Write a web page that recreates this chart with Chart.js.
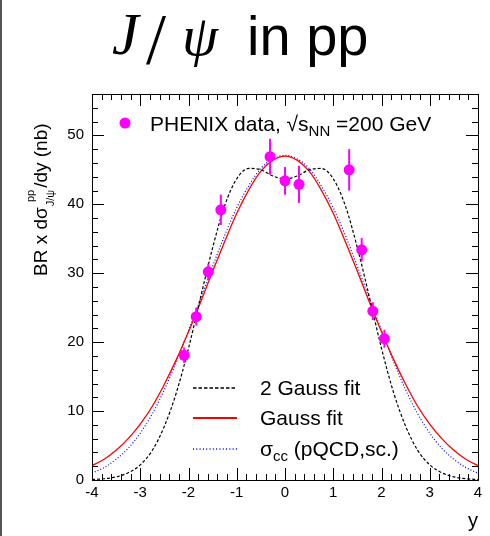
<!DOCTYPE html>
<html>
<head>
<meta charset="utf-8">
<title>J/psi in pp</title>
<script src="https://cdn.jsdelivr.net/npm/chart.js@4.4.1/dist/chart.umd.min.js"></script>
<style>
  html, body { margin: 0; padding: 0; background: #fff; }
  #wrap { position: relative; width: 490px; height: 536px; }
</style>
</head>
<body>
<div id="wrap"><canvas id="jpsiChart"></canvas></div>
<script>
// PHENIX data points (rapidity, BR x dsigma/dy in nb, error)
const dataRapidity = [-2.09, -1.84, -1.59, -1.33, -0.31, 0.0, 0.29, 1.33, 1.59, 1.82, 2.06];
const dataValues = [18.1, 23.7, 30.2, 39.2, 46.9, 43.4, 42.9, 45.0, 33.4, 24.5, 20.5];
const dataErrors = [1.1, 1.3, 1.2, 2.2, 2.6, 2.0, 2.7, 3.0, 1.7, 1.3, 1.3];

// curves, every 0.25 in y
const curveRapidity = [-4, -3.75, -3.5, -3.25, -3, -2.75, -2.5, -2.25, -2, -1.75, -1.5, -1.25, -1, -0.75, -0.5, -0.25, 0,
  0.25, 0.5, 0.75, 1, 1.25, 1.5, 1.75, 2, 2.25, 2.5, 2.75, 3, 3.25, 3.5, 3.75, 4];
const twoGaussFit = [0.07, 0.18, 0.45, 1.05, 2.2, 4.3, 7.8, 12.7, 19.1, 26.5, 33.7, 39.8, 43.7, 45.2, 45.0, 44.1, 43.7,
  44.1, 45.0, 45.2, 43.7, 39.8, 33.7, 26.5, 19.1, 12.7, 7.8, 4.3, 2.2, 1.05, 0.45, 0.18, 0.07];
const gaussFit = [2.1, 3.0, 4.3, 6.0, 8.1, 10.7, 13.9, 17.5, 21.5, 25.8, 30.3, 34.6, 38.7, 42.1, 44.8, 46.4, 47.0,
  46.4, 44.8, 42.1, 38.7, 34.6, 30.3, 25.8, 21.5, 17.5, 13.9, 10.7, 8.1, 6.0, 4.3, 3.0, 2.1];
const pqcdScaled = [1.0, 1.8, 3.0, 4.6, 6.8, 9.6, 13.1, 17.2, 21.7, 26.3, 31.0, 35.5, 39.5, 42.7, 45.2, 46.6, 47.1,
  46.6, 45.2, 42.7, 39.5, 35.5, 31.0, 26.3, 21.7, 17.2, 13.1, 9.6, 6.8, 4.6, 3.0, 1.8, 1.0];

const xTicks = [-4, -3, -2, -1, 0, 1, 2, 3, 4];
const yTicks = [0, 10, 20, 30, 40, 50];

const sans = '"Liberation Sans", Arial, sans-serif';
const serif = '"Liberation Serif", "DejaVu Serif", serif';

function toPoints(xs, ys) {
  return xs.map((x, i) => ({ x: x, y: ys[i] }));
}

// draw a run of text pieces one after another, each with its own font and offset
function drawParts(ctx, parts, x, y) {
  let pos = x;
  parts.forEach(p => {
    ctx.font = p.font;
    ctx.fillText(p.text, pos, y + (p.dy || 0));
    pos += ctx.measureText(p.text).width;
  });
  return pos;
}

const overlay = {
  id: 'overlay',
  beforeDatasetDraw(chart, args) {
    if (args.index !== 0) return;
    // error bars under the markers
    const xs = chart.scales.x, ys = chart.scales.y;
    const ctx = chart.ctx;
    ctx.save();
    ctx.strokeStyle = '#ff00ff';
    ctx.lineWidth = 2;
    dataRapidity.forEach((r, i) => {
      const px = xs.getPixelForValue(r);
      ctx.beginPath();
      ctx.moveTo(px, ys.getPixelForValue(dataValues[i] - dataErrors[i]));
      ctx.lineTo(px, ys.getPixelForValue(dataValues[i] + dataErrors[i]));
      ctx.stroke();
    });
    ctx.restore();
  },
  afterDraw(chart) {
    const ctx = chart.ctx;
    const a = chart.chartArea;
    const xs = chart.scales.x, ys = chart.scales.y;
    ctx.save();

    // page edge line on the left
    ctx.fillStyle = '#555';
    ctx.fillRect(0, 0, 2, chart.height);

    // frame
    ctx.strokeStyle = '#000';
    ctx.lineWidth = 1;
    ctx.strokeRect(a.left + 0.5, a.top + 0.5, a.right - a.left, a.bottom - a.top);

    // inward tick marks, ROOT style
    ctx.beginPath();
    for (let i = 0; i <= 40; i++) {
      const v = xTicks[0] + i * 0.2;
      const px = Math.round(xs.getPixelForValue(v)) + 0.5;
      const len = i % 5 === 0 ? 12 : 6;
      ctx.moveTo(px, a.bottom); ctx.lineTo(px, a.bottom - len);
      ctx.moveTo(px, a.top); ctx.lineTo(px, a.top + len);
    }
    for (let v = 0; v <= ys.max; v += 2) {
      const py = Math.round(ys.getPixelForValue(v)) + 0.5;
      const len = v % 10 === 0 ? 12 : 6;
      ctx.moveTo(a.left, py); ctx.lineTo(a.left + len, py);
      ctx.moveTo(a.right, py); ctx.lineTo(a.right - len, py);
    }
    ctx.stroke();

    ctx.fillStyle = '#000';
    ctx.textBaseline = 'alphabetic';
    ctx.textAlign = 'left';

    // title: J/psi in pp
    ctx.font = 'italic 60px ' + serif;
    ctx.fillText('J', 112, 54);
    ctx.font = '72px ' + serif;
    ctx.fillText('/', 146, 63);
    ctx.font = 'italic 58px ' + serif;
    ctx.fillText('\u03c8', 182, 55);
    ctx.font = '56px ' + sans;
    ctx.fillText('in pp', 247, 55);

    // x axis title
    ctx.font = '20px ' + sans;
    ctx.textAlign = 'right';
    ctx.fillText('y', a.right, 527);
    ctx.textAlign = 'left';

    // y axis title, rotated, with sub/superscript
    ctx.save();
    ctx.translate(47, 276);
    ctx.rotate(-Math.PI / 2);
    let u = drawParts(ctx, [
      { text: 'BR x d', font: '19px ' + sans },
      { text: '\u03c3', font: '19px ' + sans }
    ], 0, 0);
    ctx.font = '11px ' + sans;
    const subW = ctx.measureText('J/\u03c8').width;
    const supW = ctx.measureText('pp').width;
    ctx.fillText('J/\u03c8', u + 1, 7);
    ctx.fillText('pp', u + 1 + subW - supW, -13);
    u += subW + 3;
    drawParts(ctx, [{ text: '/dy (nb)', font: '19px ' + sans }], u, 0);
    ctx.restore();

    // legend: data
    ctx.fillStyle = '#ff00ff';
    ctx.beginPath();
    ctx.arc(125, 123, 5.5, 0, Math.PI * 2);
    ctx.fill();
    ctx.fillStyle = '#000';
    drawParts(ctx, [
      { text: 'PHENIX data, \u221as', font: '21px ' + sans },
      { text: 'NN', font: '15px ' + sans, dy: 5 },
      { text: ' =200 GeV', font: '21px ' + sans }
    ], 150, 131);

    // legend: curves
    const rows = [
      { y: 388, color: '#000000', width: 1.5, dash: [3.5, 2], parts: [{ text: '2 Gauss fit', font: '21px ' + sans }] },
      { y: 418, color: '#ff0000', width: 2, dash: [], parts: [{ text: 'Gauss fit', font: '21px ' + sans }] },
      { y: 449, color: '#0000ff', width: 1.5, dash: [1, 2.3], parts: [
        { text: '\u03c3', font: '21px ' + sans },
        { text: 'cc', font: '15px ' + sans, dy: 5 },
        { text: ' (pQCD,sc.)', font: '21px ' + sans }
      ] }
    ];
    rows.forEach(r => {
      ctx.save();
      ctx.strokeStyle = r.color;
      ctx.lineWidth = r.width;
      ctx.setLineDash(r.dash);
      ctx.beginPath();
      ctx.moveTo(193, r.y);
      ctx.lineTo(237, r.y);
      ctx.stroke();
      ctx.restore();
      ctx.fillStyle = '#000';
      drawParts(ctx, r.parts, 260, r.y + 7);
    });

    ctx.restore();
  }
};

const config = {
  type: 'scatter',
  data: {
    datasets: [
      {
        label: 'PHENIX data',
        data: toPoints(dataRapidity, dataValues),
        backgroundColor: '#ff00ff',
        borderColor: '#ff00ff',
        pointRadius: 5.5,
        pointBorderWidth: 0,
        order: 0
      },
      {
        label: '2 Gauss fit',
        data: toPoints(curveRapidity, twoGaussFit),
        showLine: true,
        borderColor: '#000',
        borderWidth: 1.2,
        borderDash: [3, 2],
        pointRadius: 0,
        cubicInterpolationMode: 'monotone',
        order: 1
      },
      {
        label: 'Gauss fit',
        data: toPoints(curveRapidity, gaussFit),
        showLine: true,
        borderColor: '#ff0000',
        borderWidth: 1.3,
        pointRadius: 0,
        cubicInterpolationMode: 'monotone',
        order: 1
      },
      {
        label: 'sigma_cc (pQCD,sc.)',
        data: toPoints(curveRapidity, pqcdScaled),
        showLine: true,
        borderColor: '#0000ff',
        borderWidth: 1.2,
        borderDash: [1, 2],
        pointRadius: 0,
        cubicInterpolationMode: 'monotone',
        order: 1
      }
    ]
  },
  options: {
    responsive: true,
    maintainAspectRatio: false,
    animation: false,
    layout: { padding: { top: 94, right: 12, left: 0, bottom: 0 } },
    plugins: {
      legend: { display: false },
      tooltip: { enabled: false }
    },
    scales: {
      x: {
        type: 'linear',
        min: xTicks[0],
        max: xTicks[xTicks.length - 1],
        afterBuildTicks: s => { s.ticks = xTicks.map(v => ({ value: v })); },
        afterFit: s => { s.height = 56; },
        ticks: {
          color: '#000',
          font: { family: sans, size: 15 },
          padding: 4,
          maxRotation: 0
        },
        grid: { display: false, drawTicks: false },
        border: { display: false }
      },
      y: {
        type: 'linear',
        min: 0,
        max: 56,
        afterBuildTicks: s => { s.ticks = yTicks.map(v => ({ value: v })); },
        afterFit: s => { s.width = 92; },
        ticks: {
          color: '#000',
          font: { family: sans, size: 15 },
          padding: 8
        },
        grid: { display: false, drawTicks: false },
        border: { display: false }
      }
    }
  },
  plugins: [overlay]
};

const jpsiChart = new Chart(document.getElementById('jpsiChart'), config);
</script>
</body>
</html>
